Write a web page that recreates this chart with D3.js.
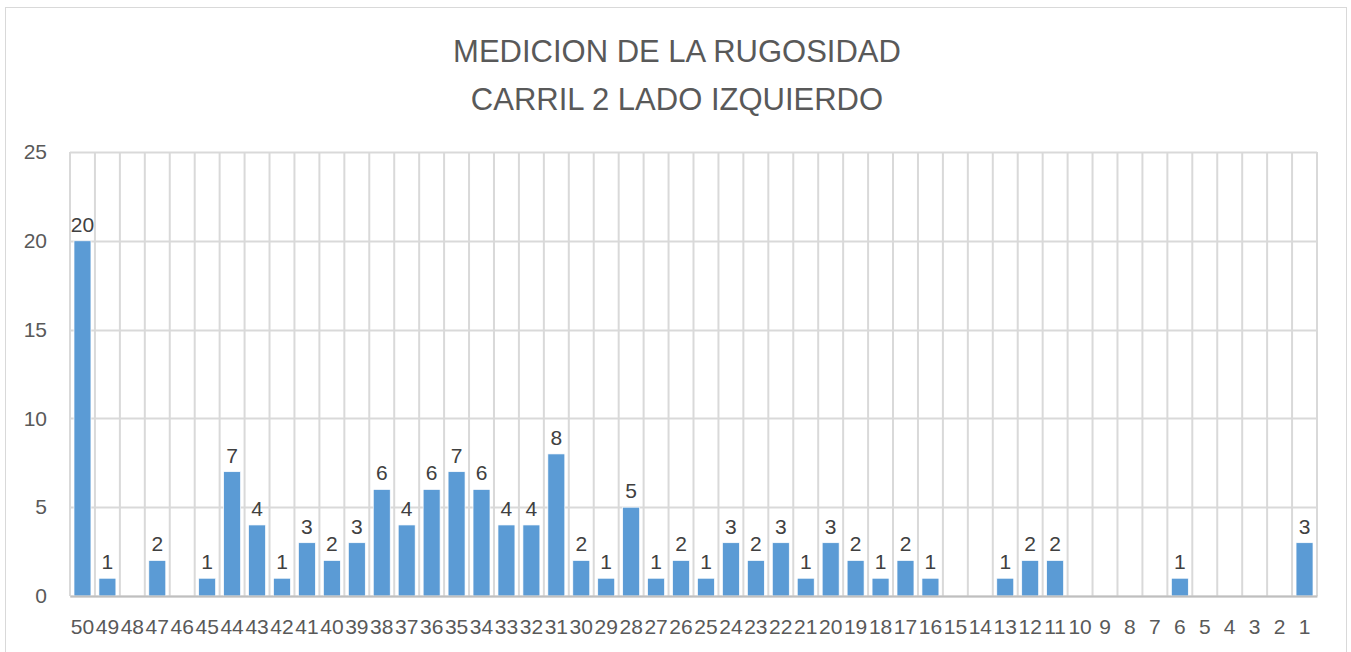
<!DOCTYPE html>
<html>
<head>
<meta charset="utf-8">
<script src="https://cdn.jsdelivr.net/npm/d3@7"></script>
<style>
  body { margin: 0; background: #fff; }
  text { font-family: "Liberation Sans", "DejaVu Sans", sans-serif; }
</style>
</head>
<body>
<div id="chart"></div>
<script>
var categories = ["50","49","48","47","46","45","44","43","42","41","40","39","38","37","36","35","34","33","32","31","30","29","28","27","26","25","24","23","22","21","20","19","18","17","16","15","14","13","12","11","10","9","8","7","6","5","4","3","2","1"]
var values = [20,1,0,2,0,1,7,4,1,3,2,3,6,4,6,7,6,4,4,8,2,1,5,1,2,1,3,2,3,1,3,2,1,2,1,0,0,1,2,2,0,0,0,0,1,0,0,0,0,3]
var yTicks = [0,5,10,15,20,25]
var titleLines = ["MEDICION DE LA RUGOSIDAD", "CARRIL 2 LADO IZQUIERDO"]

var W = 1351, H = 652
var margin = {top: 152, right: 34, bottom: 56, left: 70},
    width = W - margin.left - margin.right,
    height = H - margin.top - margin.bottom

var root = d3.select("#chart").append("svg")
    .attr("width", W)
    .attr("height", H)

// outer frame
root.append("rect")
    .attr("x", 5.5).attr("y", 7.5)
    .attr("width", 1341).attr("height", 660)
    .attr("fill", "none")
    .attr("stroke", "#d9d9d9")

var title = root.append("text")
    .attr("text-anchor", "middle")
    .attr("fill", "#595959")
    .style("font-size", "31px")
title.selectAll("tspan")
    .data(titleLines)
    .enter().append("tspan")
    .attr("x", 677)
    .attr("y", (d, i) => 62 + i * 48)
    .text(d => d)

var svg = root.append("g")
    .attr("transform", `translate(${margin.left},${margin.top})`)

var xScale = d3.scaleBand()
    .domain(categories)
    .range([0, width])
    .paddingInner(0.32)
    .paddingOuter(0.16)

var step = xScale.step()

var yScale = d3.scaleLinear()
    .domain([0, 25])
    .range([height, 0])

// horizontal gridlines
svg.append("g")
    .selectAll("line")
    .data(yTicks)
    .enter().append("line")
    .attr("x1", 0).attr("x2", width)
    .attr("y1", d => Math.round(yScale(d)) + 0.5)
    .attr("y2", d => Math.round(yScale(d)) + 0.5)
    .attr("stroke", "#d9d9d9")
    .attr("stroke-width", 2)

// vertical gridlines at category boundaries
svg.append("g")
    .selectAll("line")
    .data(d3.range(categories.length + 1))
    .enter().append("line")
    .attr("x1", i => i * step)
    .attr("x2", i => i * step)
    .attr("y1", 0).attr("y2", height)
    .attr("stroke", "#d9d9d9")
    .attr("stroke-width", 2)

// y axis labels
var yAxis = svg.append("g")
    .call(d3.axisLeft(yScale).tickValues(yTicks).tickSize(0).tickPadding(23))
yAxis.select(".domain").remove()
yAxis.selectAll("text")
    .attr("fill", "#595959")
    .style("font-size", "21px")

// bars
svg.selectAll("rect.bar")
    .data(values)
    .enter().append("rect")
    .attr("class", "bar")
    .attr("x", (d, i) => xScale(categories[i]))
    .attr("y", d => yScale(d))
    .attr("width", xScale.bandwidth())
    .attr("height", d => height - yScale(d))
    .attr("fill", "#5b9bd5")
    .attr("stroke", "#fff")
    .attr("stroke-width", 0.7)

// bottom axis
var xAxis = svg.append("g")
    .attr("transform", `translate(0,${height})`)
    .call(d3.axisBottom(xScale).tickSize(0).tickPadding(23))
xAxis.select(".domain")
    .attr("stroke", "#bfbfbf")
    .attr("stroke-width", 2)
xAxis.selectAll("text")
    .attr("fill", "#595959")
    .style("font-size", "21px")

// data labels
svg.selectAll("text.lbl")
    .data(values.map((v, i) => ({v: v, c: categories[i]})).filter(d => d.v > 0))
    .enter().append("text")
    .attr("class", "lbl")
    .attr("x", d => xScale(d.c) + xScale.bandwidth() / 2)
    .attr("y", d => yScale(d.v) - 9)
    .attr("text-anchor", "middle")
    .attr("fill", "#404040")
    .style("font-size", "21px")
    .text(d => d.v)
</script>
</body>
</html>
